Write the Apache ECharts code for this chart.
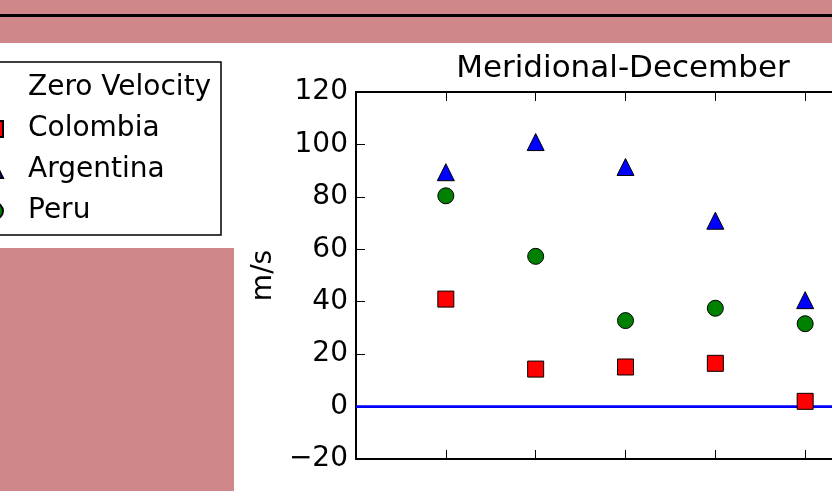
<!DOCTYPE html>
<html>
<head>
<meta charset="utf-8">
<script src="https://cdn.jsdelivr.net/npm/echarts@6/dist/echarts.min.js"></script>
<style>
  html, body { margin: 0; padding: 0; background: #ffffff; overflow: hidden; }
  #chart { width: 832px; height: 491px; }
</style>
</head>
<body>
<div id="chart"></div>
<script>
// Station positions along the x axis
const stations = [1, 2, 3, 4, 5];
// Meridional wind speed, December (m/s)
const colombia = [41.0, 14.3, 15.1, 16.5, 2.0];
const argentina = [89.4, 100.9, 91.4, 70.9, 40.6];
const peru = [80.4, 57.3, 32.8, 37.5, 31.6];
// Reference line at zero velocity
const zeroX = [0, 6];
const zeroY = [0, 0];
// Axis ranges and ticks
const yTicks = [-20, 0, 20, 40, 60, 80, 100, 120];
const xRange = [0, 6];

const FONT = 'DejaVu Sans';
const PINK = '#cf8789';

const pair = (xs, ys) => xs.map((x, i) => [x, ys[i]]);

const chart = echarts.init(document.getElementById('chart'), null, { renderer: 'canvas' });

const xAxisBase = {
  type: 'value',
  min: xRange[0],
  max: xRange[1],
  interval: 1,
  axisLine: { show: true, onZero: false, lineStyle: { color: '#000', width: 2 } },
  axisTick: { show: true, inside: true, length: 9, lineStyle: { color: '#000', width: 1 } },
  axisLabel: { show: false },
  splitLine: { show: false }
};

chart.setOption({
  animation: false,
  backgroundColor: '#ffffff',
  title: {
    text: 'Meridional-December',
    left: 618,
    top: 48,
    textAlign: 'center',
    textStyle: { fontFamily: FONT, fontSize: 31, fontWeight: 'normal', color: '#000' }
  },
  graphic: [
    { type: 'rect', left: 0, top: 0, shape: { width: 832, height: 43 }, style: { fill: PINK }, silent: true },
    { type: 'rect', left: 0, top: 14, shape: { width: 832, height: 3 }, style: { fill: '#000' }, silent: true },
    { type: 'rect', left: 0, top: 248, shape: { width: 234, height: 243 }, style: { fill: PINK }, silent: true }
  ],
  legend: {
    left: -22,
    top: 62,
    orient: 'vertical',
    itemWidth: 16,
    itemHeight: 16,
    itemGap: 11,
    padding: [11, 8, 9, 8],
    borderColor: '#000',
    borderWidth: 1.5,
    backgroundColor: '#fff',
    textStyle: {
      fontFamily: FONT, fontSize: 28, color: '#000',
      width: 185, lineHeight: 30, padding: [0, 0, 0, 20]
    },
    data: [
      { name: 'Zero Velocity', icon: 'none' },
      { name: 'Colombia' },
      { name: 'Argentina' },
      { name: 'Peru' }
    ]
  },
  grid: {
    left: 356, top: 92, width: 539, height: 367,
    containLabel: false, outerBoundsMode: 'none'
  },
  xAxis: [
    Object.assign({ position: 'bottom' }, xAxisBase),
    Object.assign({ position: 'top' }, xAxisBase)
  ],
  yAxis: [{
    type: 'value',
    min: yTicks[0],
    max: yTicks[yTicks.length - 1],
    interval: 20,
    name: 'm/s',
    nameLocation: 'middle',
    nameRotate: 90,
    nameGap: 66,
    nameTextStyle: { fontFamily: FONT, fontSize: 28, color: '#000' },
    axisLine: { show: true, lineStyle: { color: '#000', width: 2 } },
    axisTick: { show: true, inside: true, length: 9, lineStyle: { color: '#000', width: 1 } },
    axisLabel: {
      fontFamily: FONT, fontSize: 28, color: '#000', margin: 8,
      formatter: v => (v < 0 ? '\u2212' + Math.abs(v) : String(v))
    },
    splitLine: { show: false }
  }],
  series: [
    {
      name: 'Zero Velocity',
      type: 'line',
      data: pair(zeroX, zeroY),
      showSymbol: false,
      symbol: 'none',
      lineStyle: { color: '#0000ff', width: 2.7 },
      itemStyle: { color: '#0000ff' },
      z: 1
    },
    {
      name: 'Colombia',
      type: 'scatter',
      data: pair(stations, colombia),
      symbol: 'rect',
      symbolSize: 16,
      itemStyle: { color: '#ff0000', borderColor: '#000', borderWidth: 1, opacity: 1 },
      z: 2
    },
    {
      name: 'Argentina',
      type: 'scatter',
      data: pair(stations, argentina),
      symbol: 'triangle',
      symbolSize: [17, 17],
      itemStyle: { color: '#0000ff', borderColor: '#000', borderWidth: 1, opacity: 1 },
      z: 3
    },
    {
      name: 'Peru',
      type: 'scatter',
      data: pair(stations, peru),
      symbol: 'circle',
      symbolSize: 16,
      itemStyle: { color: '#008000', borderColor: '#000', borderWidth: 1, opacity: 1 },
      z: 4
    }
  ]
});
</script>
</body>
</html>
